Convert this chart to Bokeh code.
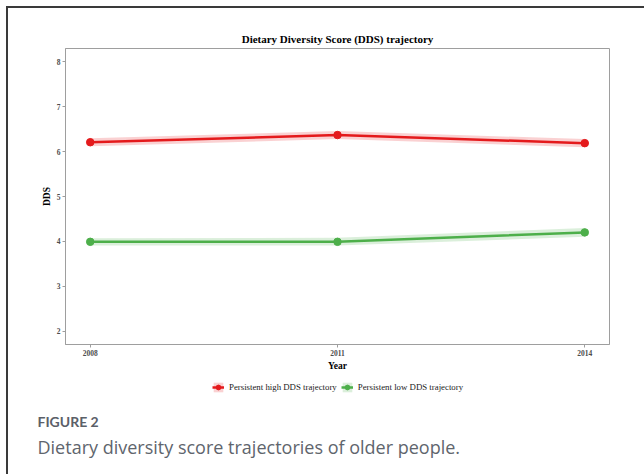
from bokeh.plotting import figure
from bokeh.layouts import column
from bokeh.models import (Range1d, FixedTicker, Legend, LegendItem, Label,
                          ColumnDataSource)
from bokeh.embed import file_html
from bokeh.resources import INLINE

# Survey waves and mean Dietary Diversity Score per trajectory group
years = [2008, 2011, 2014]
high_dds = [6.21, 6.37, 6.19]
high_lower = [6.12, 6.28, 6.10]
high_upper = [6.30, 6.46, 6.28]
low_dds = [3.99, 3.99, 4.20]
low_lower = [3.91, 3.91, 4.10]
low_upper = [4.07, 4.08, 4.30]

y_ticks = [2, 3, 4, 5, 6, 7, 8]
x_ticks = [2008, 2011, 2014]

groups = [
    ("Persistent high DDS trajectory", high_dds, high_lower, high_upper, "#E41A1C"),
    ("Persistent low DDS trajectory", low_dds, low_lower, low_upper, "#4DAF4A"),
]

serif = "Liberation Serif"
CARD_W = 636
BAND_ALPHA = 0.2

# ---- trajectory chart -------------------------------------------------------
p = figure(width=CARD_W, height=366, output_backend="svg", toolbar_location=None,
           x_range=Range1d(2007.7, 2014.3), y_range=Range1d(1.7, 8.3),
           min_border_left=57, min_border_right=35,
           min_border_top=40, min_border_bottom=30,
           background_fill_color="white", border_fill_color="white")

p.title.text = "Dietary Diversity Score (DDS) trajectory"
p.title.align = "center"
p.title.text_font = serif
p.title.text_font_style = "bold"
p.title.text_font_size = "11px"
p.title.text_color = "black"
p.title.standoff = 7

p.xgrid.visible = False
p.ygrid.visible = False
p.outline_line_color = "#9e9e9e"
p.outline_line_width = 1

for ax in (p.xaxis[0], p.yaxis[0]):
    ax.axis_line_color = "#9e9e9e"
    ax.major_tick_line_color = "#9e9e9e"
    ax.minor_tick_line_color = None
    ax.major_tick_in = 0
    ax.major_tick_out = 3
    ax.major_label_text_font = serif
    ax.major_label_text_font_style = "bold"
    ax.major_label_text_font_size = "7.5px"
    ax.major_label_text_color = "#4d4d4d"
    ax.major_label_standoff = 2
    ax.axis_label_text_font = serif
    ax.axis_label_text_font_style = "bold"
    ax.axis_label_text_font_size = "9.5px"
    ax.axis_label_text_color = "black"
    ax.axis_label_standoff = 2

p.xaxis.ticker = FixedTicker(ticks=x_ticks)
p.yaxis.ticker = FixedTicker(ticks=y_ticks)
p.xaxis.axis_label = "Year"
p.yaxis.axis_label = "DDS"

styles = []
for name, mean, lo, hi, col in groups:
    src = ColumnDataSource(dict(x=years, y=mean, lo=lo, hi=hi))
    p.varea(x="x", y1="lo", y2="hi", source=src, fill_color=col,
            fill_alpha=BAND_ALPHA)
    p.line(x="x", y="y", source=src, line_color=col, line_width=2.5)
    p.scatter(x="x", y="y", source=src, size=7.5, fill_color=col, line_color=col)
    styles.append((name, col))

# ---- legend and caption strip (pixel coordinates, origin bottom-left) -------
q = figure(width=CARD_W, height=100, output_backend="svg", toolbar_location=None,
           x_range=Range1d(0, CARD_W), y_range=Range1d(0, 100),
           x_axis_type=None, y_axis_type=None,
           min_border=0, outline_line_color=None,
           background_fill_color="white", border_fill_color="white")
q.frame_align = False
q.xgrid.visible = False
q.ygrid.visible = False

# legend keys: off-canvas stand-ins carrying the same styles as the chart
items = []
for name, col in styles:
    key = ColumnDataSource(dict(x=[-50, -40], y=[-50, -50],
                                lo=[-51, -51], hi=[-49, -49]))
    kb = q.varea(x="x", y1="lo", y2="hi", source=key, fill_color=col,
                 fill_alpha=BAND_ALPHA)
    kl = q.line(x="x", y="y", source=key, line_color=col, line_width=2.5)
    kp = q.scatter(x="x", y="y", source=key, size=7.5, fill_color=col,
                   line_color=col)
    items.append(LegendItem(label=name, renderers=[kb, kl, kp]))

legend = Legend(items=items, orientation="horizontal", location=(204, 81),
                label_text_font=serif, label_text_font_size="8.8px",
                label_text_color="#222222", glyph_width=12, glyph_height=12,
                label_height=12, label_standoff=5, spacing=4,
                padding=2, margin=0, border_line_color=None,
                background_fill_alpha=0)
q.add_layout(legend, "center")

q.add_layout(Label(x=29, y=53, text="FIGURE 2",
                   text_font="Lato", text_font_style="bold",
                   text_font_size="14px", text_color="#5b6068",
                   text_baseline="alphabetic"))
q.add_layout(Label(x=29, y=28,
                   text="Dietary diversity score trajectories of older people.",
                   text_font="Open Sans", text_font_size="18px",
                   text_color="#60656d", text_baseline="alphabetic"))

# card: rule along the top and left edges
card = column(p, q, spacing=0,
              styles={"border-top": "2px solid #3a3a3a",
                      "border-left": "2px solid #3a3a3a",
                      "margin-top": "6px", "margin-left": "6px"})

open("out.html", "w").write(file_html(card, INLINE))
